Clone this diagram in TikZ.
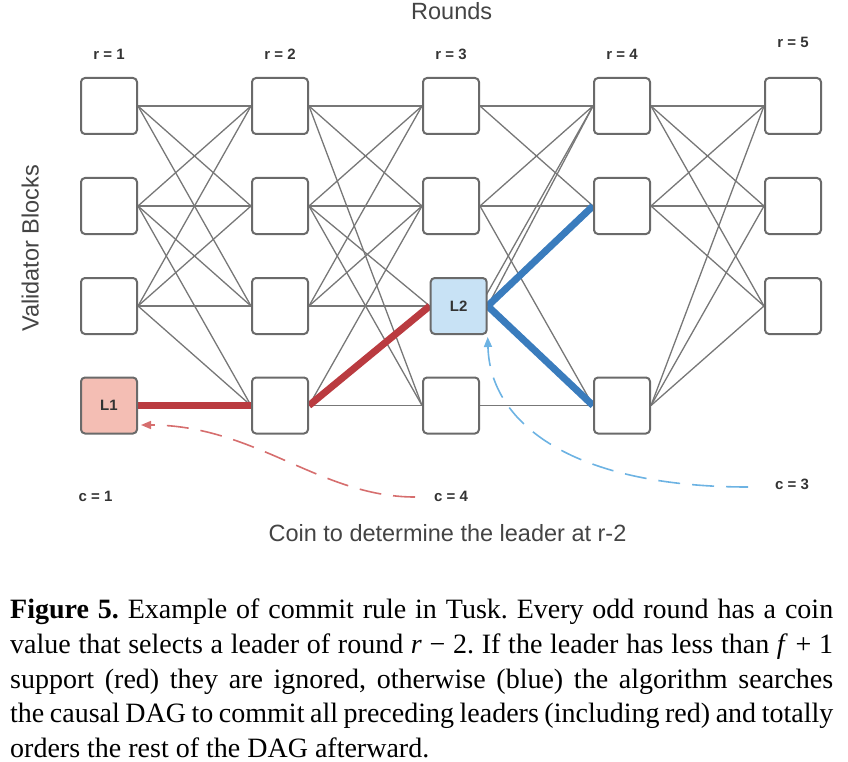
\documentclass[tikz,border=0pt]{standalone}
\usepackage{fontspec}
\setmainfont{Liberation Serif}
\newfontfamily\sanf{Liberation Sans}
\usetikzlibrary{arrows.meta,calc}
\definecolor{boxgray}{HTML}{6A6A6A}
\definecolor{edgegray}{HTML}{777777}
\definecolor{lonefill}{HTML}{F4BEB4}
\definecolor{ltwofill}{HTML}{C8E2F5}
\definecolor{redline}{HTML}{BA3B40}
\definecolor{blueline}{HTML}{3A7CBD}
\definecolor{reddash}{HTML}{D66E6E}
\definecolor{bluedash}{HTML}{6DB3E3}
\definecolor{txtgray}{HTML}{333333}
\definecolor{txtgraytwo}{HTML}{444444}
\pgfdeclarelayer{bg}
\pgfsetlayers{bg,main}
\frenchspacing
\begin{document}
\begin{tikzpicture}[x=1pt,y=-1pt,
  blk/.style={draw=boxgray, line width=2pt, rounded corners=4pt, fill=white,
    minimum width=56pt, minimum height=56pt, inner sep=0pt,
    font=\sanf\bfseries\fontsize{15}{15}\selectfont, text=txtgray},
  edge/.style={draw=edgegray, line width=1.3pt},
  redthick/.style={draw=redline, line width=7pt},
  bluethick/.style={draw=blueline, line width=7pt},
  rlab/.style={font=\sanf\bfseries\fontsize{15}{15}\selectfont, text=txtgray, anchor=base, inner sep=0pt},
  biglab/.style={font=\sanf\fontsize{23.5}{26}\selectfont, text=txtgraytwo, anchor=base, inner sep=0pt},
  capline/.style={anchor=base west, inner sep=0pt, font=\fontsize{28}{34}\selectfont},
  rdash/.style={draw=reddash, line width=1.6pt, dash pattern=on 22pt off 12pt, -{Triangle[length=10pt,width=8pt]}},
  bdash/.style={draw=bluedash, line width=1.6pt, dash pattern=on 22pt off 12pt, -{Triangle[length=10pt,width=8pt]}}
]
\useasboundingbox (0,0) rectangle (848,762);

% titles
\node[biglab] (rounds) at (451.7,19.5) {Rounds};
\node[biglab, rotate=90] (vb) at (38.5,248.5) {Validator Blocks};
\node[biglab] (coin) at (447.5,541) {Coin to determine the leader at r-2};

% round labels
\node[rlab] (r1) at (109,60) {r = 1};
\node[rlab] (r2) at (280,60) {r = 2};
\node[rlab] (r3) at (451,60) {r = 3};
\node[rlab] (r4) at (622,60) {r = 4};
\node[rlab] (r5) at (793,48) {r = 5};

% coin labels
\node[rlab] (c1) at (95.5,501.5) {c = 1};
\node[rlab] (c4) at (451,501.5) {c = 4};
\node[rlab] (c3) at (792,489) {c = 3};

% blocks
\node[blk] (n11) at (109,106) {};
\node[blk] (n12) at (109,206) {};
\node[blk] (n13) at (109,306) {};
\node[blk, fill=lonefill] (L1) at (109,405.5) {L1};

\node[blk] (n21) at (280,106) {};
\node[blk] (n22) at (280,206) {};
\node[blk] (n23) at (280,306) {};
\node[blk] (n24) at (280,405.5) {};

\node[blk] (n31) at (451,106) {};
\node[blk] (n32) at (451,206) {};
\node[blk, fill=ltwofill] (L2) at (458.7,306) {L2};
\node[blk] (n34) at (451,405.5) {};
\coordinate (c33) at (480,306);

\node[blk] (n41) at (622,106) {};
\node[blk] (n42) at (622,206) {};
\node[blk] (n44) at (622,405.5) {};

\node[blk] (n51) at (793,106) {};
\node[blk] (n52) at (793,206) {};
\node[blk] (n53) at (793,306) {};

\begin{pgfonlayer}{bg}
% round 1 -> 2
\foreach \a/\b in {n11/n21,n11/n22,n11/n23,n12/n21,n12/n22,n12/n23,n12/n24,n13/n21,n13/n22,n13/n23,n13/n24}
  \draw[edge] (\a.east) -- (\b.west);
% round 2 -> 3
\foreach \a/\b in {n21/n31,n21/n32,n21/n34,n22/n31,n22/n32,n22/L2,n22/n34,n23/n31,n23/n32,n23/L2,n24/n32,n24/n34}
  \draw[edge] (\a.east) -- (\b.west);
% round 3 -> 4
\foreach \a/\b in {n31/n41,n31/n42,n32/n41,n32/n42,n32/n44,L2/n41,n34/n44}
  \draw[edge] (\a.east) -- (\b.west);
\draw[edge] (c33) -- (n41.west);
% round 4 -> 5
\foreach \a/\b in {n41/n51,n41/n52,n41/n53,n42/n51,n42/n52,n42/n53,n44/n51,n44/n52,n44/n53}
  \draw[edge] (\a.east) -- (\b.west);
% highlighted paths
\draw[redthick] (L1.east) -- (n24.west);
\draw[redthick] (n24.east) -- (L2.west);
\draw[bluethick] (L2.east) -- (n42.west);
\draw[bluethick] (L2.east) -- (n44.west);
\end{pgfonlayer}

% coin arrows
\coordinate (rs) at (415,497);
\coordinate (bs) at (748,487);
\draw[rdash] (rs) .. controls (320,497) and (255,425) .. ($(L1.east)+(3,19.5)$);
\draw[bdash] (bs) .. controls (575,487) and (490,425) .. ($(L2.south east)+(0,2)$);

% caption
\node[capline] (cap1) at (10,618) {\makebox[823pt][s]{\textbf{Figure 5.} Example of commit rule in Tusk. Every odd round has a coin}};
\node[capline] (cap2) at (10,653) {\makebox[823pt][s]{value that selects a leader of round \textit{r}~−~2. If the leader has less than \textit{f}~+~1}};
\node[capline] (cap3) at (10,688) {\makebox[823pt][s]{support (red) they are ignored, otherwise (blue) the algorithm searches}};
\node[capline] (cap4) at (10,722) {\makebox[823pt][s]{the causal DAG to commit all preceding leaders (including red) and totally}};
\node[capline] (cap5) at (10,757) {orders the rest of the DAG afterward.};
\end{tikzpicture}
\end{document}
